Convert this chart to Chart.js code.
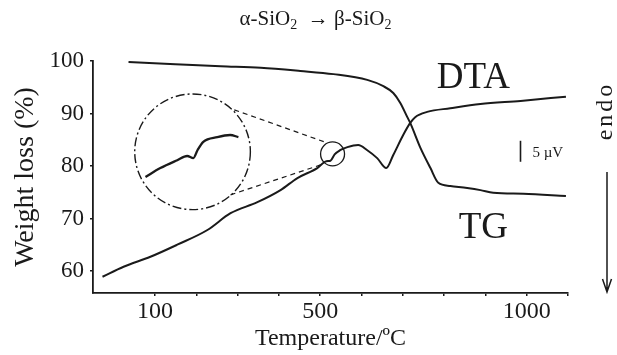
<!DOCTYPE html>
<html>
<head>
<meta charset="utf-8">
<script src="https://cdn.jsdelivr.net/npm/chart.js@4"></script>
<style>
  html, body { margin: 0; padding: 0; background: #fff; }
  canvas { display: block; }
</style>
</head>
<body>
<canvas id="c" width="617" height="355"></canvas>
<script>
// ---- data ----
const tgTemperature = [36, 149, 259, 356, 452, 532, 614, 653, 677, 694, 711, 718, 743, 767, 786, 815, 856, 888, 919, 992, 1095];
const tgWeight      = [99.8, 99.4, 99.0, 98.7, 98.1, 97.5, 96.4, 95.2, 93.9, 92.0, 89.3, 88.2, 83.4, 79.6, 76.8, 76.2, 75.8, 75.4, 74.9, 74.7, 74.3];

const dtaTemperature = [-27, 24, 89, 154, 227, 283, 348, 404, 445, 493, 515, 525, 535, 548, 566, 592, 614, 638, 660, 677, 701, 718, 730, 759, 815, 888, 985, 1095];
const dtaSignal      = [58.9, 60.8, 62.7, 65.0, 67.8, 71.0, 73.1, 75.4, 77.7, 79.6, 80.9, 81.0, 82.2, 83.0, 83.6, 84.0, 83.0, 81.5, 79.6, 82.1, 85.9, 88.2, 89.3, 90.3, 91.0, 91.8, 92.4, 93.2];

// magnified view of the alpha->beta quartz step (drawn inside the inset circle)
const insetTemperature = [77, 113, 154, 178, 193, 203, 217, 251, 282, 302];
const insetSignal      = [77.9, 79.6, 81.1, 81.9, 81.5, 83.0, 84.6, 85.5, 85.9, 85.5];

// dashed connector lines: [start, end]
const connectorTopT = [292, 517];   const connectorTopY = [90.7, 84.4];
const connectorBotT = [283, 501];   const connectorBotY = [74.5, 80.2];

const xTickLabels = [100, 500, 1000];
const yTickLabels = [60, 70, 80, 90, 100];

// title pieces: [text, isSubscript]
const titleParts = [['α-SiO', false], ['2', true], ['  → β-SiO', false], ['2', true]];
const xTitle     = 'Temperature/ºC';
const yTitle     = 'Weight loss (%)';
const labelDTA   = 'DTA';
const labelTG    = 'TG';
const labelScale = '5 µV';
const labelEndo  = 'endo';

const SERIF = '"Liberation Serif", "DejaVu Serif", serif';
const INK = '#1a1a1a';

function pts(xs, ys) { return xs.map((v, i) => ({ x: v, y: ys[i] })); }

const annotations = {
  id: 'annotations',
  afterDatasetsDraw(chart) {
    const { ctx, chartArea } = chart;
    const xs = chart.scales.x, ys = chart.scales.y;
    const px = v => xs.getPixelForValue(v), py = v => ys.getPixelForValue(v);
    ctx.save();
    ctx.strokeStyle = INK; ctx.fillStyle = INK;

    // title with subscripts
    const mainFont = '21px ' + SERIF, subFont = '14px ' + SERIF;
    let total = 0;
    titleParts.forEach(([t, sub]) => { ctx.font = sub ? subFont : mainFont; total += ctx.measureText(t).width; });
    let tx = (chartArea.left + chartArea.right) / 2 - 15 - total / 2;
    const tBase = 25;
    ctx.textAlign = 'left'; ctx.textBaseline = 'alphabetic';
    titleParts.forEach(([t, sub]) => {
      ctx.font = sub ? subFont : mainFont;
      ctx.fillText(t, tx, sub ? tBase + 4 : tBase);
      tx += ctx.measureText(t).width;
    });

    // inset (magnifier) circle, dash-dot
    const bigC = [191, 82.7], bigR = 140;
    ctx.lineWidth = 1.4;
    ctx.setLineDash([9, 3, 2, 3]);
    ctx.beginPath();
    ctx.arc(px(bigC[0]), py(bigC[1]), px(bigC[0] + bigR) - px(bigC[0]), 0, Math.PI * 2);
    ctx.stroke();

    // small circle round the step on the DTA curve
    const smC = [530, 82.3], smR = 29;
    ctx.setLineDash([]);
    ctx.lineWidth = 1.3;
    ctx.beginPath();
    ctx.arc(px(smC[0]), py(smC[1]), px(smC[0] + smR) - px(smC[0]), 0, Math.PI * 2);
    ctx.stroke();

    // curve labels
    ctx.textAlign = 'center';
    ctx.textBaseline = 'alphabetic';
    ctx.font = '37px ' + SERIF;
    ctx.fillText(labelDTA, px(871), py(94.9));
    ctx.fillText(labelTG, px(895), py(66.3));

    // 5 µV scale bar
    ctx.lineWidth = 1.6;
    ctx.beginPath();
    ctx.moveTo(px(985), py(84.8));
    ctx.lineTo(px(985), py(80.8));
    ctx.stroke();
    ctx.textAlign = 'left';
    ctx.textBaseline = 'middle';
    ctx.font = '15px ' + SERIF;
    ctx.fillText(labelScale, px(1014), py(82.4));

    // endo + downward arrow, right of the plot
    const ex = chartArea.right + 38;
    ctx.save();
    ctx.translate(ex, chartArea.top + 50);
    ctx.rotate(-Math.PI / 2);
    ctx.font = '24px ' + SERIF;
    ctx.textAlign = 'center';
    ctx.textBaseline = 'middle';
    try { ctx.letterSpacing = '3px'; } catch (e) {}
    ctx.fillText(labelEndo, 0, 0);
    ctx.restore();

    const ax = chartArea.right + 39;
    const a0 = chartArea.top + 111, a1 = chartArea.bottom - 1;
    ctx.lineWidth = 1.5;
    ctx.beginPath();
    ctx.moveTo(ax, a0); ctx.lineTo(ax, a1);
    ctx.moveTo(ax - 4.5, a1 - 13); ctx.lineTo(ax, a1); ctx.lineTo(ax + 4.5, a1 - 13);
    ctx.stroke();
    ctx.restore();
  }
};

const lineStyle = { borderColor: INK, borderWidth: 2, pointRadius: 0, cubicInterpolationMode: 'monotone', fill: false };

new Chart(document.getElementById('c'), {
  type: 'line',
  data: {
    datasets: [
      { label: 'TG',  data: pts(tgTemperature, tgWeight), ...lineStyle },
      { label: 'DTA', data: pts(dtaTemperature, dtaSignal), ...lineStyle },
      { label: 'inset', data: pts(insetTemperature, insetSignal), ...lineStyle, borderWidth: 2.3 },
      { label: 'c1', data: pts(connectorTopT, connectorTopY), borderColor: INK, borderWidth: 1.2, borderDash: [5, 4], pointRadius: 0, tension: 0 },
      { label: 'c2', data: pts(connectorBotT, connectorBotY), borderColor: INK, borderWidth: 1.2, borderDash: [5, 4], pointRadius: 0, tension: 0 }
    ]
  },
  options: {
    responsive: false,
    animation: false,
    layout: { padding: { left: 0, right: 49, top: 61, bottom: 0 } },
    plugins: {
      legend: { display: false },
      tooltip: { enabled: false },
      title: { display: false }
    },
    scales: {
      x: {
        type: 'linear', min: -50, max: 1100,
        afterFit(s) { s.height = 62; },
        afterBuildTicks(s) { s.ticks = s.ticks.filter(t => t.value % 100 === 0); },
        border: { display: true, color: INK, width: 1.8 },
        grid: { display: true, drawOnChartArea: false, drawTicks: true, tickLength: 3, color: INK, lineWidth: 1.5 },
        ticks: {
          stepSize: 100, autoSkip: false, maxRotation: 0, color: INK, padding: 1,
          font: { family: SERIF, size: 24 },
          callback: v => xTickLabels.includes(v) ? String(v) : ''
        },
        title: { display: true, text: xTitle, color: INK, font: { family: SERIF, size: 24 }, padding: { top: 0, bottom: 2 } }
      },
      y: {
        type: 'linear', min: 55.8, max: 100,
        afterFit(s) { s.width = 93; },
        afterBuildTicks(s) { s.ticks = yTickLabels.map(v => ({ value: v })); },
        border: { display: true, color: INK, width: 1.8 },
        grid: { display: true, drawOnChartArea: false, drawTicks: true, tickLength: 3, color: INK, lineWidth: 1.5 },
        ticks: {
          color: INK, padding: 6,
          font: { family: SERIF, size: 23 },
          callback: v => String(v)
        },
        title: { display: true, text: yTitle, color: INK, font: { family: SERIF, size: 28 }, padding: { top: 9 } }
      }
    }
  },
  plugins: [annotations]
});
</script>
</body>
</html>
